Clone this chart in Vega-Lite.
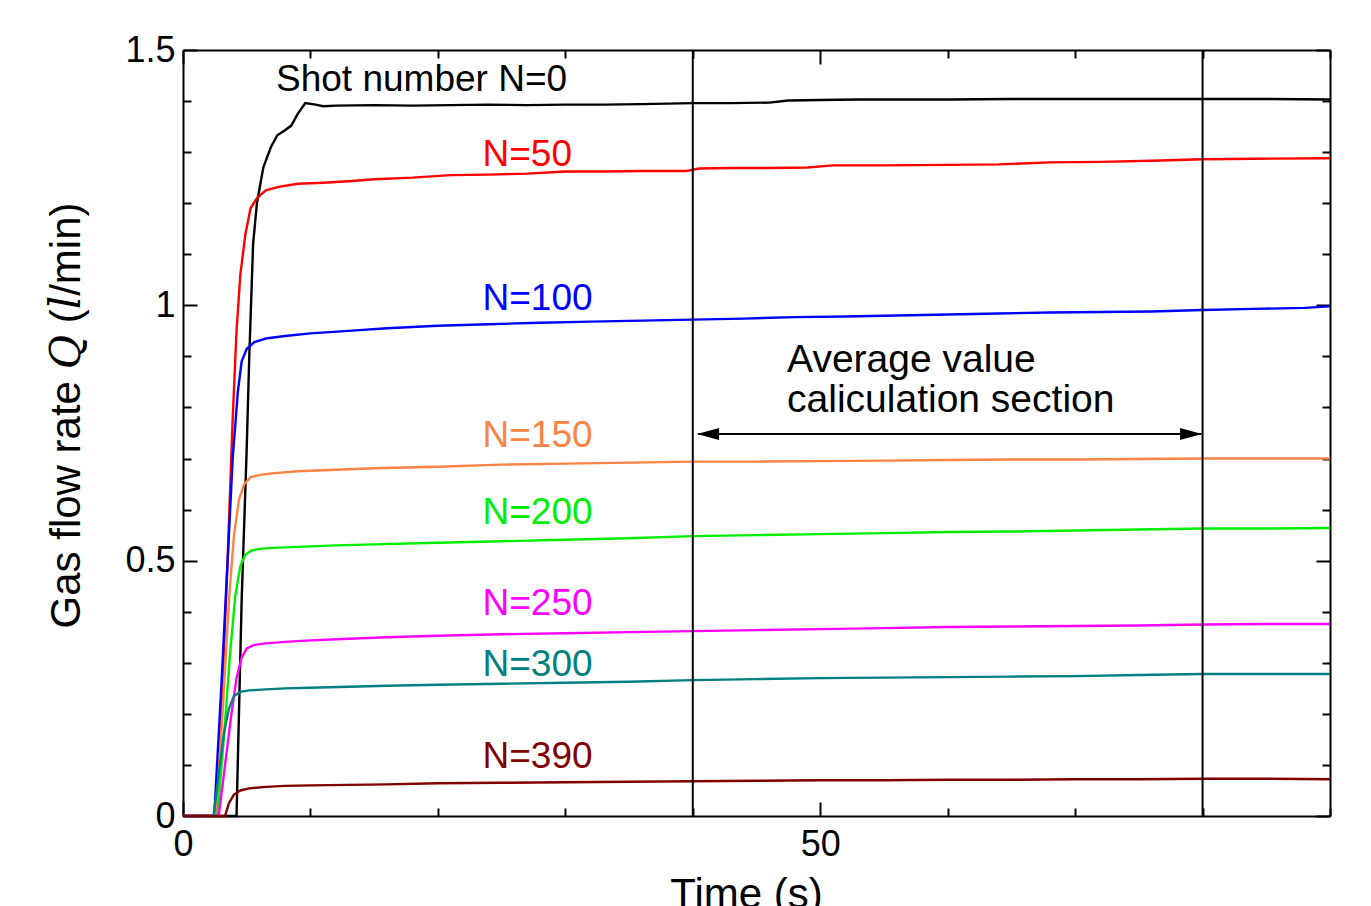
{
  "$schema": "https://vega.github.io/schema/vega-lite/v6.json",
  "autosize": {"type": "none"},
  "padding": {"left": 183, "top": 50, "right": 41, "bottom": 90},
  "width": 1147,
  "height": 766,
  "background": "white",
  "config": {
    "font": "Liberation Sans",
    "view": {"stroke": null},
    "axis": {
      "grid": false,
      "domainColor": "black",
      "domainWidth": 2,
      "tickColor": "black",
      "tickWidth": 2,
      "labelColor": "black",
      "titleColor": "black",
      "labelFont": "Liberation Sans",
      "titleFont": "Liberation Sans, DejaVu Serif",
      "labelFontSize": 36,
      "titleFontSize": 42,
      "titleFontWeight": "normal",
      "labelFlush": false,
      "labelOverlap": false
    }
  },
  "datasets": {
    "lines": [
      {"s":"N=0","t":0,"q":0},{"s":"N=0","t":4.2,"q":0},{"s":"N=0","t":4.6,"q":0.42},{"s":"N=0","t":5.0,"q":0.72},{"s":"N=0","t":5.2,"q":0.9},{"s":"N=0","t":5.5,"q":1.12},{"s":"N=0","t":5.8,"q":1.2},{"s":"N=0","t":6.3,"q":1.27},{"s":"N=0","t":6.9,"q":1.31},{"s":"N=0","t":7.4,"q":1.333},{"s":"N=0","t":8.0,"q":1.343},{"s":"N=0","t":8.5,"q":1.352},{"s":"N=0","t":9.0,"q":1.375},{"s":"N=0","t":9.6,"q":1.396},{"s":"N=0","t":10.4,"q":1.393},{"s":"N=0","t":11,"q":1.39},{"s":"N=0","t":12,"q":1.391},{"s":"N=0","t":15,"q":1.392},{"s":"N=0","t":18,"q":1.391},{"s":"N=0","t":21,"q":1.392},{"s":"N=0","t":24,"q":1.393},{"s":"N=0","t":27,"q":1.392},{"s":"N=0","t":30,"q":1.393},{"s":"N=0","t":33,"q":1.393},{"s":"N=0","t":36,"q":1.394},{"s":"N=0","t":40,"q":1.396},{"s":"N=0","t":43,"q":1.396},{"s":"N=0","t":46,"q":1.397},{"s":"N=0","t":47.5,"q":1.401},{"s":"N=0","t":50,"q":1.402},{"s":"N=0","t":53,"q":1.403},{"s":"N=0","t":56,"q":1.403},{"s":"N=0","t":60,"q":1.403},{"s":"N=0","t":65,"q":1.404},{"s":"N=0","t":70,"q":1.404},{"s":"N=0","t":75,"q":1.404},{"s":"N=0","t":80,"q":1.404},{"s":"N=0","t":85,"q":1.404},{"s":"N=0","t":90,"q":1.403},

      {"s":"N=50","t":0,"q":0},{"s":"N=50","t":2.6,"q":0},{"s":"N=50","t":3.0,"q":0.2},{"s":"N=50","t":3.5,"q":0.5},{"s":"N=50","t":3.9,"q":0.78},{"s":"N=50","t":4.2,"q":0.95},{"s":"N=50","t":4.5,"q":1.06},{"s":"N=50","t":4.9,"q":1.14},{"s":"N=50","t":5.3,"q":1.19},{"s":"N=50","t":5.8,"q":1.21},{"s":"N=50","t":6.5,"q":1.225},{"s":"N=50","t":7.5,"q":1.232},{"s":"N=50","t":9,"q":1.238},{"s":"N=50","t":11,"q":1.24},{"s":"N=50","t":13,"q":1.243},{"s":"N=50","t":15,"q":1.247},{"s":"N=50","t":18,"q":1.25},{"s":"N=50","t":21,"q":1.255},{"s":"N=50","t":24,"q":1.256},{"s":"N=50","t":27,"q":1.258},{"s":"N=50","t":30,"q":1.262},{"s":"N=50","t":33,"q":1.262},{"s":"N=50","t":36,"q":1.263},{"s":"N=50","t":39.5,"q":1.263},{"s":"N=50","t":40.5,"q":1.268},{"s":"N=50","t":43,"q":1.269},{"s":"N=50","t":46,"q":1.269},{"s":"N=50","t":49,"q":1.27},{"s":"N=50","t":51,"q":1.274},{"s":"N=50","t":55,"q":1.274},{"s":"N=50","t":60,"q":1.275},{"s":"N=50","t":64,"q":1.276},{"s":"N=50","t":68,"q":1.28},{"s":"N=50","t":72,"q":1.281},{"s":"N=50","t":76,"q":1.283},{"s":"N=50","t":80,"q":1.286},{"s":"N=50","t":84,"q":1.287},{"s":"N=50","t":90,"q":1.288},

      {"s":"N=100","t":0,"q":0},{"s":"N=100","t":2.45,"q":0},{"s":"N=100","t":3.0,"q":0.25},{"s":"N=100","t":3.5,"q":0.5},{"s":"N=100","t":3.9,"q":0.7},{"s":"N=100","t":4.3,"q":0.83},{"s":"N=100","t":4.6,"q":0.89},{"s":"N=100","t":5.0,"q":0.915},{"s":"N=100","t":5.6,"q":0.928},{"s":"N=100","t":6.5,"q":0.935},{"s":"N=100","t":8,"q":0.94},{"s":"N=100","t":10,"q":0.945},{"s":"N=100","t":13,"q":0.95},{"s":"N=100","t":16,"q":0.955},{"s":"N=100","t":20,"q":0.96},{"s":"N=100","t":24,"q":0.963},{"s":"N=100","t":28,"q":0.966},{"s":"N=100","t":32,"q":0.968},{"s":"N=100","t":36,"q":0.97},{"s":"N=100","t":40,"q":0.972},{"s":"N=100","t":44,"q":0.974},{"s":"N=100","t":48,"q":0.977},{"s":"N=100","t":52,"q":0.978},{"s":"N=100","t":56,"q":0.98},{"s":"N=100","t":60,"q":0.982},{"s":"N=100","t":64,"q":0.984},{"s":"N=100","t":68,"q":0.986},{"s":"N=100","t":72,"q":0.987},{"s":"N=100","t":76,"q":0.988},{"s":"N=100","t":80,"q":0.991},{"s":"N=100","t":84,"q":0.993},{"s":"N=100","t":88,"q":0.995},{"s":"N=100","t":90,"q":0.998},

      {"s":"N=150","t":0,"q":0},{"s":"N=150","t":2.6,"q":0},{"s":"N=150","t":3.1,"q":0.2},{"s":"N=150","t":3.6,"q":0.42},{"s":"N=150","t":4.0,"q":0.55},{"s":"N=150","t":4.4,"q":0.62},{"s":"N=150","t":4.8,"q":0.65},{"s":"N=150","t":5.3,"q":0.663},{"s":"N=150","t":6,"q":0.668},{"s":"N=150","t":7,"q":0.671},{"s":"N=150","t":9,"q":0.675},{"s":"N=150","t":12,"q":0.678},{"s":"N=150","t":15,"q":0.681},{"s":"N=150","t":20,"q":0.684},{"s":"N=150","t":25,"q":0.688},{"s":"N=150","t":30,"q":0.69},{"s":"N=150","t":35,"q":0.692},{"s":"N=150","t":40,"q":0.694},{"s":"N=150","t":45,"q":0.694},{"s":"N=150","t":50,"q":0.695},{"s":"N=150","t":55,"q":0.696},{"s":"N=150","t":60,"q":0.697},{"s":"N=150","t":65,"q":0.698},{"s":"N=150","t":70,"q":0.698},{"s":"N=150","t":75,"q":0.699},{"s":"N=150","t":80,"q":0.7},{"s":"N=150","t":85,"q":0.7},{"s":"N=150","t":90,"q":0.7},

      {"s":"N=200","t":0,"q":0},{"s":"N=200","t":2.7,"q":0},{"s":"N=200","t":3.2,"q":0.15},{"s":"N=200","t":3.7,"q":0.32},{"s":"N=200","t":4.1,"q":0.43},{"s":"N=200","t":4.5,"q":0.49},{"s":"N=200","t":4.9,"q":0.512},{"s":"N=200","t":5.4,"q":0.52},{"s":"N=200","t":6,"q":0.523},{"s":"N=200","t":7,"q":0.525},{"s":"N=200","t":9,"q":0.527},{"s":"N=200","t":12,"q":0.53},{"s":"N=200","t":15,"q":0.532},{"s":"N=200","t":20,"q":0.535},{"s":"N=200","t":25,"q":0.538},{"s":"N=200","t":30,"q":0.541},{"s":"N=200","t":35,"q":0.544},{"s":"N=200","t":40,"q":0.548},{"s":"N=200","t":45,"q":0.55},{"s":"N=200","t":50,"q":0.552},{"s":"N=200","t":55,"q":0.554},{"s":"N=200","t":60,"q":0.556},{"s":"N=200","t":65,"q":0.557},{"s":"N=200","t":70,"q":0.559},{"s":"N=200","t":75,"q":0.561},{"s":"N=200","t":80,"q":0.563},{"s":"N=200","t":85,"q":0.563},{"s":"N=200","t":90,"q":0.564},

      {"s":"N=250","t":0,"q":0},{"s":"N=250","t":2.8,"q":0},{"s":"N=250","t":3.3,"q":0.1},{"s":"N=250","t":3.8,"q":0.2},{"s":"N=250","t":4.2,"q":0.27},{"s":"N=250","t":4.6,"q":0.31},{"s":"N=250","t":5.0,"q":0.328},{"s":"N=250","t":5.6,"q":0.335},{"s":"N=250","t":6.5,"q":0.338},{"s":"N=250","t":8,"q":0.341},{"s":"N=250","t":10,"q":0.344},{"s":"N=250","t":13,"q":0.347},{"s":"N=250","t":16,"q":0.35},{"s":"N=250","t":20,"q":0.353},{"s":"N=250","t":25,"q":0.356},{"s":"N=250","t":30,"q":0.358},{"s":"N=250","t":35,"q":0.36},{"s":"N=250","t":40,"q":0.362},{"s":"N=250","t":45,"q":0.364},{"s":"N=250","t":50,"q":0.366},{"s":"N=250","t":55,"q":0.368},{"s":"N=250","t":60,"q":0.37},{"s":"N=250","t":65,"q":0.371},{"s":"N=250","t":70,"q":0.372},{"s":"N=250","t":75,"q":0.373},{"s":"N=250","t":80,"q":0.375},{"s":"N=250","t":85,"q":0.376},{"s":"N=250","t":90,"q":0.376},

      {"s":"N=300","t":0,"q":0},{"s":"N=300","t":2.4,"q":0},{"s":"N=300","t":2.8,"q":0.08},{"s":"N=300","t":3.2,"q":0.16},{"s":"N=300","t":3.6,"q":0.21},{"s":"N=300","t":4.0,"q":0.235},{"s":"N=300","t":4.5,"q":0.243},{"s":"N=300","t":5.2,"q":0.246},{"s":"N=300","t":6.5,"q":0.248},{"s":"N=300","t":8,"q":0.25},{"s":"N=300","t":10,"q":0.251},{"s":"N=300","t":13,"q":0.253},{"s":"N=300","t":16,"q":0.255},{"s":"N=300","t":20,"q":0.257},{"s":"N=300","t":25,"q":0.259},{"s":"N=300","t":30,"q":0.261},{"s":"N=300","t":35,"q":0.263},{"s":"N=300","t":40,"q":0.266},{"s":"N=300","t":45,"q":0.268},{"s":"N=300","t":50,"q":0.27},{"s":"N=300","t":55,"q":0.271},{"s":"N=300","t":60,"q":0.272},{"s":"N=300","t":65,"q":0.273},{"s":"N=300","t":70,"q":0.274},{"s":"N=300","t":75,"q":0.276},{"s":"N=300","t":80,"q":0.278},{"s":"N=300","t":85,"q":0.278},{"s":"N=300","t":90,"q":0.278},

      {"s":"N=390","t":0,"q":0},{"s":"N=390","t":3.3,"q":0},{"s":"N=390","t":3.6,"q":0.025},{"s":"N=390","t":4.0,"q":0.042},{"s":"N=390","t":4.5,"q":0.05},{"s":"N=390","t":5.2,"q":0.054},{"s":"N=390","t":6.5,"q":0.057},{"s":"N=390","t":8,"q":0.059},{"s":"N=390","t":10,"q":0.06},{"s":"N=390","t":13,"q":0.061},{"s":"N=390","t":16,"q":0.062},{"s":"N=390","t":20,"q":0.064},{"s":"N=390","t":25,"q":0.065},{"s":"N=390","t":30,"q":0.066},{"s":"N=390","t":35,"q":0.067},{"s":"N=390","t":40,"q":0.068},{"s":"N=390","t":45,"q":0.069},{"s":"N=390","t":50,"q":0.07},{"s":"N=390","t":55,"q":0.07},{"s":"N=390","t":60,"q":0.071},{"s":"N=390","t":65,"q":0.071},{"s":"N=390","t":70,"q":0.072},{"s":"N=390","t":75,"q":0.072},{"s":"N=390","t":80,"q":0.073},{"s":"N=390","t":85,"q":0.073},{"s":"N=390","t":90,"q":0.072}
    ],
    "labels": [
      {"s":"N=0","label":"Shot number N=0","t":7.3,"q":1.441},
      {"s":"N=50","label":"N=50","t":23.5,"q":1.294},
      {"s":"N=100","label":"N=100","t":23.5,"q":1.012},
      {"s":"N=150","label":"N=150","t":23.5,"q":0.744},
      {"s":"N=200","label":"N=200","t":23.5,"q":0.593},
      {"s":"N=250","label":"N=250","t":23.5,"q":0.415},
      {"s":"N=300","label":"N=300","t":23.5,"q":0.296},
      {"s":"N=390","label":"N=390","t":23.5,"q":0.1155}
    ],
    "notes": [
      {"label":"Average value","t":47.4,"q":0.893},
      {"label":"caliculation section","t":47.4,"q":0.815}
    ],
    "bounds": [{"t":40},{"t":80}],
    "arrow": [{"t":40.4,"t2":79.9,"q":0.748}],
    "heads": [{"t":41.2,"q":0.748,"dir":"left"},{"t":79.1,"q":0.748,"dir":"right"}]
  },
  "resolve": {"axis": {"x": "independent", "y": "independent"}},
  "layer": [
    {
      "data": {"name": "lines"},
      "mark": {"type": "line", "strokeWidth": 2.4},
      "encoding": {
        "x": {"field": "t", "type": "quantitative",
          "scale": {"domain": [0, 90], "nice": false, "zero": false},
          "axis": {"orient": "bottom", "title": "Time (s)",
            "values": [0,10,20,30,40,50,60,70,80,90],
            "labelExpr": "datum.value % 50 === 0 ? datum.label : ''",
            "tickSize": {"condition": {"test": "datum.value % 50 === 0", "value": -14}, "value": -8},
            "labelPadding": 25, "titlePadding": 6, "titleX": 563}},
        "y": {"field": "q", "type": "quantitative",
          "scale": {"domain": [0, 1.5], "nice": false, "zero": false},
          "axis": {"orient": "left", "title": "Gas flow rate 𝑄 (𝑙/min)",
            "values": [0,0.1,0.2,0.3,0.4,0.5,0.6,0.7,0.8,0.9,1,1.1,1.2,1.3,1.4,1.5],
            "labelExpr": "(datum.value*10) % 5 === 0 ? toString(datum.value) : ''",
            "tickSize": {"condition": {"test": "(datum.value*10) % 5 === 0", "value": -14}, "value": -8},
            "labelPadding": 22, "titlePadding": 36, "titleY": 365}},
        "color": {"field": "s", "type": "nominal",
          "scale": {"domain": ["N=0","N=50","N=100","N=150","N=200","N=250","N=300","N=390"],
                    "range": ["#000000","#ff0000","#0000ff","#fa8444","#00ee00","#ff00ff","#008080","#800000"]},
          "legend": null}
      }
    },
    {
      "data": {"name": "bounds"},
      "mark": {"type": "rule", "color": "black", "strokeWidth": 2},
      "encoding": {"x": {"field": "t", "type": "quantitative", "axis": null}}
    },
    {
      "data": {"name": "arrow"},
      "mark": {"type": "rule", "color": "black", "strokeWidth": 2},
      "encoding": {
        "x": {"field": "t", "type": "quantitative",
          "axis": {"orient": "top", "title": null, "labels": false,
            "values": [0,10,20,30,40,50,60,70,80,90],
            "tickSize": {"condition": {"test": "datum.value % 50 === 0", "value": -14}, "value": -8}}},
        "x2": {"field": "t2"},
        "y": {"field": "q", "type": "quantitative",
          "axis": {"orient": "right", "title": null, "labels": false,
            "values": [0,0.1,0.2,0.3,0.4,0.5,0.6,0.7,0.8,0.9,1,1.1,1.2,1.3,1.4,1.5],
            "tickSize": {"condition": {"test": "(datum.value*10) % 5 === 0", "value": -14}, "value": -8}}}
      }
    },
    {
      "data": {"name": "heads"},
      "mark": {"type": "point", "filled": true, "color": "black", "opacity": 1, "size": 484},
      "encoding": {
        "x": {"field": "t", "type": "quantitative", "axis": null},
        "y": {"field": "q", "type": "quantitative", "axis": null},
        "shape": {"field": "dir", "type": "nominal",
          "scale": {"domain": ["left","right"], "range": ["M-1,0L1,-0.55L1,0.55Z","M1,0L-1,-0.55L-1,0.55Z"]},
          "legend": null}
      }
    },
    {
      "data": {"name": "labels"},
      "mark": {"type": "text", "align": "left", "baseline": "middle", "fontSize": 37, "font": "Liberation Sans"},
      "encoding": {
        "x": {"field": "t", "type": "quantitative", "axis": null},
        "y": {"field": "q", "type": "quantitative", "axis": null},
        "text": {"field": "label"},
        "color": {"field": "s", "type": "nominal", "legend": null}
      }
    },
    {
      "data": {"name": "notes"},
      "mark": {"type": "text", "align": "left", "baseline": "middle", "fontSize": 39, "font": "Liberation Sans", "color": "black"},
      "encoding": {
        "x": {"field": "t", "type": "quantitative", "axis": null},
        "y": {"field": "q", "type": "quantitative", "axis": null},
        "text": {"field": "label"}
      }
    }
  ]
}
